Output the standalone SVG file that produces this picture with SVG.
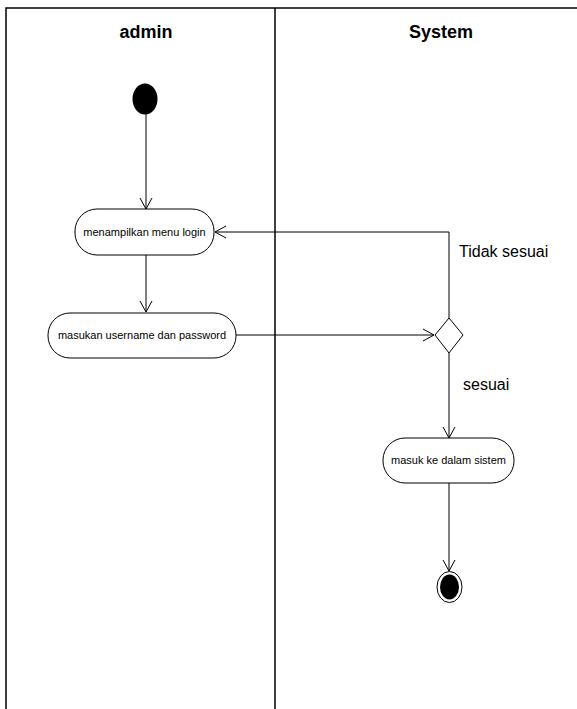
<svg xmlns="http://www.w3.org/2000/svg" width="577" height="709" viewBox="0 0 577 709">
  <style>
    .lane { stroke: #000; stroke-width: 1.5; fill: none; }
    .head { font-family: "Liberation Sans", Arial, sans-serif; font-size: 18px; font-weight: bold; text-anchor: middle; fill: #000; }
    .act { fill: #fff; stroke: #000; stroke-width: 1; }
    .lbl { font-family: "Liberation Sans", Arial, sans-serif; font-size: 11px; text-anchor: middle; fill: #000; }
    .guard { font-family: "Liberation Sans", Arial, sans-serif; font-size: 16px; fill: #000; }
    .edge { stroke: #000; stroke-width: 1; fill: none; }
  </style>
  <defs>
    <marker id="open" markerWidth="14" markerHeight="14" refX="12" refY="7" orient="auto" markerUnits="userSpaceOnUse">
      <path d="M1,1 L12,7 L1,13" fill="none" stroke="#000" stroke-width="1"/>
    </marker>
  </defs>
  <rect width="577" height="709" fill="#fff"/>

  <!-- swimlanes -->
  <g id="lanes">
    <path class="lane" d="M6,709 V8 H577"/>
    <path class="lane" d="M275,8 V709"/>
    <text class="head" x="146" y="38">admin</text>
    <text class="head" x="441" y="38">System</text>
  </g>

  <!-- connectors -->
  <g id="connectors">
    <path class="edge" d="M146,114 V209" marker-end="url(#open)"/>
    <path class="edge" d="M146,255 V312" marker-end="url(#open)"/>
    <path class="edge" d="M236,335 H434" marker-end="url(#open)"/>
    <path class="edge" d="M449,318 V232 H215" marker-end="url(#open)"/>
    <path class="edge" d="M449,353 V438" marker-end="url(#open)"/>
    <path class="edge" d="M449,483 V571" marker-end="url(#open)"/>
    <text class="guard" x="459" y="257">Tidak sesuai</text>
    <text class="guard" x="463" y="390">sesuai</text>
  </g>

  <g id="start">
    <ellipse cx="145" cy="99" rx="12.5" ry="15.5" fill="#000"/>
  </g>

  <g id="menampilkan-menu-login">
    <rect class="act" x="75" y="209" width="139" height="46" rx="22" ry="22"/>
    <text class="lbl" x="144.5" y="236">menampilkan menu login</text>
  </g>

  <g id="masukan-username">
    <rect class="act" x="48" y="313" width="188" height="45" rx="22" ry="22"/>
    <text class="lbl" x="142" y="339">masukan username dan password</text>
  </g>

  <g id="decision">
    <path d="M449,318 L463,335 L449,353 L435,335 Z" fill="#fff" stroke="#000" stroke-width="1"/>
  </g>

  <g id="masuk-ke-dalam-sistem">
    <rect class="act" x="383" y="438" width="131" height="45" rx="22" ry="22"/>
    <text class="lbl" x="448.5" y="464">masuk ke dalam sistem</text>
  </g>

  <g id="end">
    <ellipse cx="449.5" cy="587" rx="12.5" ry="15.5" fill="#fff" stroke="#000" stroke-width="1"/>
    <ellipse cx="449.5" cy="587" rx="9.5" ry="12.5" fill="#000"/>
  </g>
</svg>
